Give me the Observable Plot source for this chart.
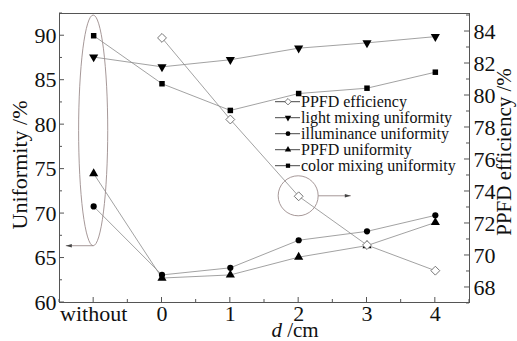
<!DOCTYPE html>
<html><head><meta charset="utf-8">
<script src="https://cdn.jsdelivr.net/npm/d3@7"></script>
<script src="https://cdn.jsdelivr.net/npm/@observablehq/plot@0.6"></script>
<style>
html,body{margin:0;padding:0;background:#fff;}
</style>
</head><body>
<div id="chart"></div>
<script>
// ---- data ----
const categories = ["without", "0", "1", "2", "3", "4"];
const lightMixing    = [87.6, 86.5, 87.3, 88.6, 89.2, 89.9];
const illuminance    = [70.8, 63.1, 63.9, 67.0, 68.0, 69.8];
const ppfdUniformity = [74.5, 62.75, 63.1, 65.1, 66.4, 69.0];
const colorMixing    = [90.0, 84.6, 81.6, 83.5, 84.1, 85.9];
const ppfdEfficiency = [null, 83.6, 78.5, 73.7, 70.65, 69.05]; // right axis
const leftTicks  = [60, 65, 70, 75, 80, 85, 90];
const rightTicks = [68, 70, 72, 74, 76, 78, 80, 82, 84];
const seriesNames = ["PPFD efficiency", "light mixing uniformity", "illuminance uniformity", "PPFD uniformity", "color mixing uniformity"];

// ---- scales ----
const W = 517, H = 341;
const FONT = "'Liberation Serif', 'DejaVu Serif', serif";
const lineColor = "#8a8a8a";
const annColor = "#9c8c8c";
const leftDomain = [60, 92.5];
// right axis value -> left axis value
const toLeft = r => 61.69 + (r - 68) * 1.799;
const fromLeft = l => 68 + (l - 61.69) / 1.799;
const xOf = i => i - 1; // category index -> position

const triDown = {draw(ctx, size) {
  const h = Math.sqrt(size * 4 / Math.sqrt(3)); // side length
  const r = h / Math.sqrt(3);
  ctx.moveTo(0, r);
  ctx.lineTo(h / 2, -r / 2);
  ctx.lineTo(-h / 2, -r / 2);
  ctx.closePath();
}};

function rows(values, toY = v => v) {
  return values.map((v, i) => ({x: xOf(i), y: v == null ? null : toY(v)})).filter(d => d.y != null);
}
const sLight = rows(lightMixing), sIllum = rows(illuminance), sPU = rows(ppfdUniformity),
      sColor = rows(colorMixing), sEff = rows(ppfdEfficiency, toLeft);

const lineOpts = {x: "x", y: "y", stroke: lineColor, strokeWidth: 0.8};

const plot = Plot.plot({
  width: W, height: H,
  marginLeft: 59, marginRight: 48, marginTop: 13, marginBottom: 39,
  style: {fontFamily: FONT, fontSize: "22px", color: "#111", background: "#fff"},
  x: {domain: [-1.5, 4.5]},
  y: {domain: leftDomain},
  marks: [
    Plot.line(sColor, lineOpts),
    Plot.line(sLight, lineOpts),
    Plot.line(sIllum, lineOpts),
    Plot.line(sPU, lineOpts),
    Plot.line(sEff, lineOpts),
    Plot.dot(sColor, {x: "x", y: "y", symbol: "square", r: 3.1, fill: "#000"}),
    Plot.dot(sLight, {x: "x", y: "y", symbol: triDown, r: 3.4, fill: "#000"}),
    Plot.dot(sIllum, {x: "x", y: "y", symbol: "circle", r: 3.1, fill: "#000"}),
    Plot.dot(sPU, {x: "x", y: "y", symbol: "triangle", r: 3.4, fill: "#000"}),
    Plot.dot(sEff, {x: "x", y: "y", symbol: "diamond2", r: 4, fill: "#fff", stroke: "#666", strokeWidth: 0.9}),
    Plot.axisX(categories.map((c, i) => xOf(i)), {anchor: "bottom", tickSize: 0, tickPadding: 3,
      tickFormat: d => categories[d + 1], label: null, fontSize: 22, fontFamily: FONT}),
    Plot.axisY(leftTicks, {anchor: "left", tickSize: 0, tickPadding: 3, label: null, fontSize: 22, fontFamily: FONT}),
    Plot.axisY(rightTicks.map(toLeft), {anchor: "right", tickSize: 0, tickPadding: 4, label: null,
      tickFormat: d => String(Math.round(fromLeft(d))), fontSize: 22, fontFamily: FONT}),
    Plot.frame({stroke: "#555", strokeWidth: 1})
  ]
});

document.getElementById("chart").appendChild(plot);

// ---- ticks, annotations, legend via library scales ----
const sx = plot.scale("x"), sy = plot.scale("y");
const X = v => sx.apply(v), Y = v => sy.apply(v);
const svg = d3.select(plot);
const g = svg.append("g");
const x0 = X(-1.5), x1 = X(4.5), y0 = Y(60), y1 = Y(92.5);
const tick = (xa, ya, xb, yb) => g.append("line").attr("x1", xa).attr("y1", ya).attr("x2", xb).attr("y2", yb)
  .attr("stroke", "#555").attr("stroke-width", 1);
// left axis ticks (inward)
d3.range(60, 92.51, 2.5).forEach(v => { const L = v % 5 === 0 ? 5 : 3; tick(x0, Y(v), x0 + L, Y(v)); });
// right axis ticks
d3.range(67, 85.01, 1).forEach(v => { const L = v % 2 === 0 ? 5 : 3; tick(x1, Y(toLeft(v)), x1 - L, Y(toLeft(v))); });
// bottom ticks
d3.range(-1.5, 4.51, 0.5).forEach(v => { const L = Number.isInteger(v) ? 5 : 3; tick(X(v), y0, X(v), y0 - L); });

// ellipse around "without"
const ex = X(-1), ey = Y(79.3), erx = X(-1) - X(-1.213), ery = Y(79.3 - 12.97) - Y(79.3);
g.append("ellipse").attr("cx", ex).attr("cy", ey).attr("rx", erx).attr("ry", ery)
  .attr("fill", "none").attr("stroke", annColor).attr("stroke-width", 0.9);
function arrow(xa, ya, xb, yb) {
  g.append("line").attr("x1", xa).attr("y1", ya).attr("x2", xb).attr("y2", yb)
    .attr("stroke", annColor).attr("stroke-width", 0.9);
  const dir = Math.sign(xb - xa);
  g.append("path").attr("d", `M${xb},${yb}L${xb - dir * 6},${yb - 1.8}L${xb - dir * 6},${yb + 1.8}Z`).attr("fill", "#444");
}
arrow(ex, ey + ery, X(-1.4), ey + ery);
// circle around PPFD efficiency at d=2
const cx = X(2), cy = Y(toLeft(73.7)), cr = 20;
g.append("circle").attr("cx", cx).attr("cy", cy).attr("r", cr)
  .attr("fill", "none").attr("stroke", annColor).attr("stroke-width", 0.9);
arrow(cx + cr, cy, X(2.77), cy);

// legend
const legendSymbols = [d3.symbolDiamond2, triDown, d3.symbolCircle, d3.symbolTriangle, d3.symbolSquare];
const lg = svg.append("g").attr("text-anchor", "start");
const legTop = 101.7, legStep = 16;
seriesNames.forEach((name, i) => {
  const yy = legTop + i * legStep;
  lg.append("line").attr("x1", 275).attr("x2", 300).attr("y1", yy).attr("y2", yy).attr("stroke", "#333").attr("stroke-width", 0.9);
  const hollow = i === 0;
  lg.append("path").attr("transform", `translate(288,${yy})`)
    .attr("d", d3.symbol(legendSymbols[i], hollow ? 26 : 18)())
    .attr("fill", hollow ? "#fff" : "#000").attr("stroke", hollow ? "#555" : "none").attr("stroke-width", 0.8);
  lg.append("text").attr("x", 301).attr("y", yy).attr("dy", "0.33em").attr("text-anchor", "start")
    .attr("font-family", FONT).attr("font-size", 16).attr("fill", "#111").text(name);
});

// axis titles
svg.append("text").attr("transform", `translate(27,165) rotate(-90)`).attr("text-anchor", "middle")
  .attr("font-family", FONT).attr("font-size", 22).attr("fill", "#111").text("Uniformity /%");
svg.append("text").attr("transform", `translate(511,152) rotate(-90)`).attr("text-anchor", "middle")
  .attr("font-family", FONT).attr("font-size", 21).attr("fill", "#111").text("PPFD efficiency /%");
const xt = svg.append("text").attr("x", 295).attr("y", 337).attr("text-anchor", "middle")
  .attr("font-family", FONT).attr("font-size", 21).attr("fill", "#111");
xt.append("tspan").attr("font-style", "italic").text("d");
xt.append("tspan").text(" /cm");
</script>
</body></html>
